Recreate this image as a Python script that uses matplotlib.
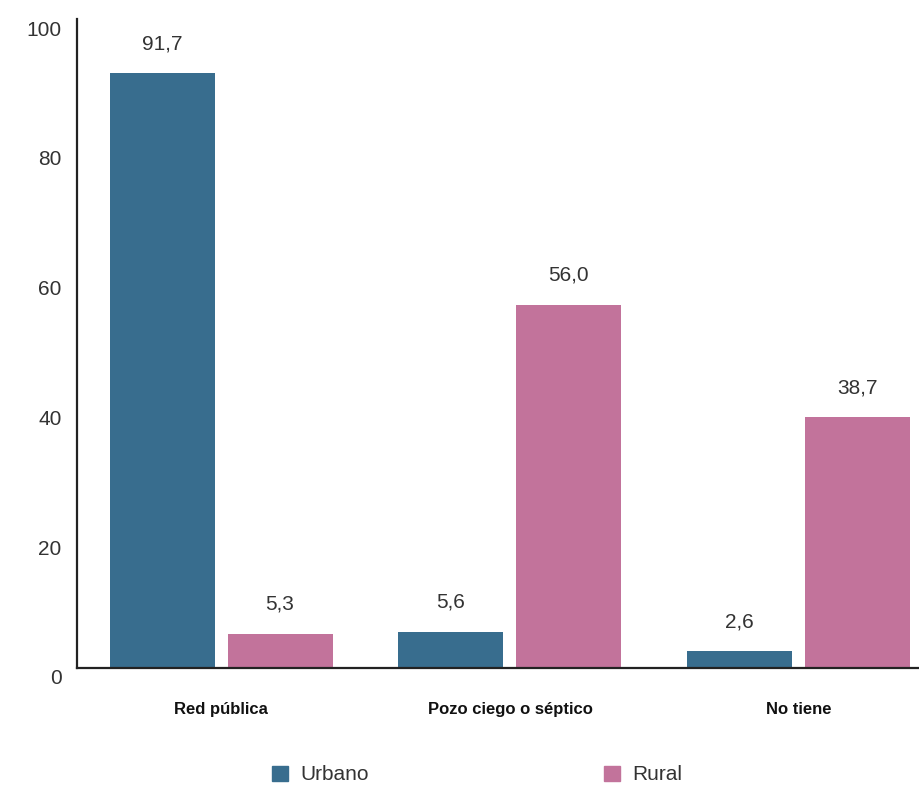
import matplotlib
matplotlib.use("Agg")
import matplotlib.pyplot as plt
import matplotlib.transforms as mtransforms
from matplotlib.patches import Patch
import numpy as np

categories = ["Red pública", "Pozo ciego o séptico", "No tiene"]
urbano = [91.7, 5.6, 2.6]
rural = [5.3, 56.0, 38.7]
yticks = [0, 20, 40, 60, 80, 100]

URBANO_COLOR = "#386d8e"
RURAL_COLOR = "#c2739b"

plt.rcParams["font.family"] = ["Liberation Sans", "DejaVu Sans"]

fig = plt.figure(figsize=(9.2, 7.85), dpi=100)
ax = fig.add_axes([77 / 920, 1 - 668 / 785, 1 - 77 / 920, (668 - 19) / 785])

x = np.arange(len(categories))
w = 0.3634
off = 0.2042
b1 = ax.bar(x - off, urbano, w, color=URBANO_COLOR, zorder=2)
b2 = ax.bar(x + off, rural, w, color=RURAL_COLOR, zorder=2)

for bars, vals in ((b1, urbano), (b2, rural)):
    for rect, v in zip(bars, vals):
        ax.annotate(f"{v:.1f}".replace(".", ","),
                    (rect.get_x() + rect.get_width() / 2, rect.get_height()),
                    xytext=(0, 21), textcoords="offset points",
                    ha="center", va="center", fontsize=15, color="#333333")

ax.set_xlim(-0.4986, 2.4194)
ax.set_ylim(0, 100)
ax.set_yticks(yticks)
ax.set_yticklabels([str(t) for t in yticks], fontsize=15, color="#333333")
ax.set_xticks(x)
ax.set_xticklabels(categories, fontsize=12, fontweight="bold", color="#111111")
ax.tick_params(axis="both", length=0)
ax.tick_params(axis="y", pad=11)
ax.tick_params(axis="x", pad=24.5)

# labels sit a bit below their tick
shift = mtransforms.ScaledTranslation(0, -9 / 100, fig.dpi_scale_trans)
for lbl in ax.get_yticklabels():
    lbl.set_transform(lbl.get_transform() + shift)

for s in ("top", "right"):
    ax.spines[s].set_visible(False)
for s in ("left", "bottom"):
    ax.spines[s].set_linewidth(1.6)
    ax.spines[s].set_color("#222222")

handles = [Patch(color=URBANO_COLOR, label="Urbano"), Patch(color=RURAL_COLOR, label="Rural")]
fig.legend(handles=handles, loc="center", bbox_to_anchor=(477 / 920, 1 - 775 / 785),
           ncol=2, frameon=False, fontsize=15, handlelength=0.75, handleheight=0.75,
           handletextpad=0.6, columnspacing=11.3, labelcolor="#333333")

fig.savefig("out.png", dpi=100)
